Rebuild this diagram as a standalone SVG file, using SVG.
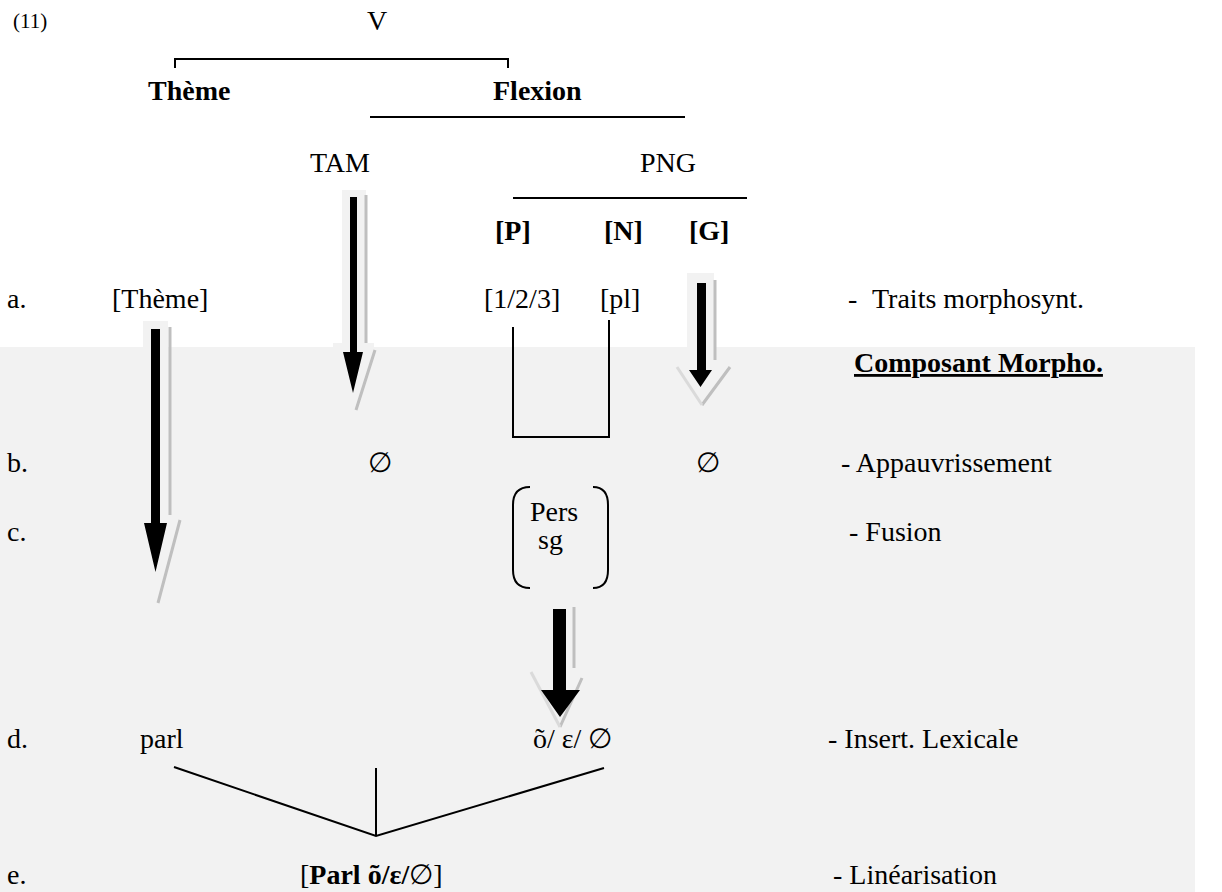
<svg xmlns="http://www.w3.org/2000/svg" width="1222" height="892" viewBox="0 0 1222 892">
<style>
text{font-family:"Liberation Serif","Times New Roman",serif;font-size:28px;fill:#000}
.b{font-weight:bold}
.ln{stroke:#000;stroke-width:2;fill:none}
.box{fill:#f2f2f2}
.sh{stroke:#bfbfbf;stroke-width:3;fill:none}
.shl{stroke:#dadada;stroke-width:3;fill:none}
.ar{fill:#000}
</style>
<rect x="0" y="347" width="1195" height="545" fill="#f2f2f2"/>
<g id="header">
<text x="13" y="28" style="font-size:21px">(11)</text>
<text x="367" y="30">V</text>
</g>
<g id="connectors">
<path class="ln" d="M175 68 V59 H508 V68"/>
<path class="ln" d="M370 117 H685"/>
<path class="ln" d="M513 198 H747"/>
<path class="ln" d="M513 327 V437 H609 V320"/>
<path class="ln" d="M530 487 Q513 487 513 505 V570 Q513 588 530 588"/>
<path class="ln" d="M593 487 Q608 487 608 505 V570 Q608 588 593 588"/>
<path class="ln" d="M174 767 L376 836 L604 768 M376 768 V836"/>
</g>
<g id="arrow-theme">
<rect class="box" x="143" y="321" width="25" height="26"/>
<path class="sh" d="M170 327 V515 M180 520 L158 603"/>
<polygon class="ar" points="151,329 160,329 160,523 167,523 155.5,572 144,523 151,523"/>
</g>
<g id="arrow-tam">
<rect class="box" x="342" y="190" width="24" height="157"/>
<rect class="box" x="333" y="343" width="41" height="4"/>
<path class="sh" d="M366 195 V343 M375 350 L356 410"/>
<polygon class="ar" points="350,197 357,197 357,352 363,352 353,393 343,352 350,352"/>
</g>
<g id="arrow-g">
<rect class="box" x="687" y="273" width="27" height="74"/>
<path class="sh" d="M715 280 V360 M730 367 L702 405"/>
<path class="shl" d="M677 367 L702 405"/>
<polygon class="ar" points="697,283 706,283 706,370 712,370 700.5,387 689,370 697,370"/>
</g>
<g id="arrow-fusion">
<path class="sh" d="M574 607 V668 M582 678 L560 727"/>
<path class="shl" d="M531 672 L560 727"/>
<polygon class="ar" points="553,609 566,609 566,690 580,690 560,717 541,690 553,690"/>
</g>
<g id="theme"><text class="b" x="148" y="100">Thème</text></g>
<g id="flexion"><text class="b" x="493" y="100">Flexion</text></g>
<g id="tam"><text x="310" y="172">TAM</text></g>
<g id="png"><text x="640" y="172">PNG</text></g>
<g id="p"><text class="b" x="495" y="240">[P]</text></g>
<g id="n"><text class="b" x="604" y="240">[N]</text></g>
<g id="g"><text class="b" x="689" y="240">[G]</text></g>
<g id="row-a">
<text x="7" y="308">a.</text>
<text x="112" y="308">[Thème]</text>
<text x="484" y="308">[1/2/3]</text>
<text x="600" y="308">[pl]</text>
<text x="848" y="308">-</text>
<text x="872" y="308">Traits morphosynt.</text>
</g>
<g id="composant"><text class="b" x="854" y="372" text-decoration="underline">Composant Morpho.</text></g>
<g id="row-b">
<text x="7" y="472">b.</text>
<text x="368" y="472">∅</text>
<text x="696" y="472">∅</text>
<text x="841" y="472">- Appauvrissement</text>
</g>
<g id="row-c">
<text x="7" y="541">c.</text>
<text x="530" y="521">Pers</text>
<text x="538" y="549">sg</text>
<text x="849" y="541">- Fusion</text>
</g>
<g id="row-d">
<text x="7" y="748">d.</text>
<text x="140" y="748">parl</text>
<text x="533" y="748">õ/ ε/ ∅</text>
<text x="828" y="748">- Insert. Lexicale</text>
</g>
<g id="row-e">
<text x="7" y="884">e.</text>
<text x="300" y="884">[<tspan class="b">Parl õ/ε/</tspan>∅]</text>
<text x="833" y="884">- Linéarisation</text>
</g>
</svg>
